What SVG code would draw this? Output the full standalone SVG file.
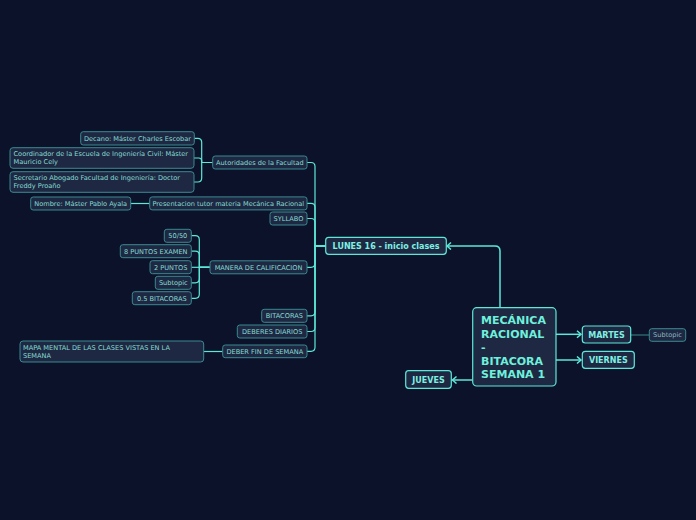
<svg xmlns="http://www.w3.org/2000/svg" width="696" height="520" viewBox="0 0 696 520">
<defs>
<marker id="arr" markerUnits="userSpaceOnUse" markerWidth="8" markerHeight="10" refX="5" refY="4" orient="auto">
<path d="M1,0.5 L5,4 L1,7.5" fill="none" stroke="#5ce8d8" stroke-width="1.5"/>
</marker>
<style>
.bg{fill:#0b1229}
.n{fill:#1e2842;stroke:#3a8a90;stroke-width:1}
.n1{fill:#1e2842;stroke:#5ce8d8;stroke-width:1.2}
.t{font-family:"DejaVu Sans",Verdana,sans-serif;font-size:6.6px;fill:#86dcd4}
.c{text-anchor:middle}
.t1{font-family:"DejaVu Sans",Verdana,sans-serif;font-size:8px;font-weight:bold;fill:#7ff0e2;text-anchor:middle}
.tm{font-family:"DejaVu Sans",Verdana,sans-serif;font-size:11px;font-weight:bold;fill:#6ff0dc}
.ts{font-family:"DejaVu Sans",Verdana,sans-serif;font-size:6.6px;fill:#8ab8c0;text-anchor:middle}
.l{fill:none;stroke:#5ce8d8;stroke-width:1.2}
.la{fill:none;stroke:#5ce8d8;stroke-width:1.5}
.lm{fill:none;stroke:#3a8a90;stroke-width:1}
</style>
</defs>
<rect class="bg" x="0" y="0" width="696" height="520"/>
<g id="connectors">
<path class="la" d="M500,307.7 V251 Q500,246 495,246 H447" marker-end="url(#arr)"/>
<path class="la" d="M556,334.3 H581" marker-end="url(#arr)"/>
<path class="la" d="M556,360 H581" marker-end="url(#arr)"/>
<path class="la" d="M472.7,380 H452.5" marker-end="url(#arr)"/>
<path class="lm" d="M630.7,335 H649.3"/>
<path class="l" d="M325.7,246 H315 V166.5 Q315,162.5 311,162.5 H307"/>
<path class="l" d="M325.7,246 H315 V207.3 Q315,203.3 311,203.3 H307"/>
<path class="l" d="M325.7,246 H315 V222.5 Q315,218.5 311,218.5 H307"/>
<path class="l" d="M325.7,246 H315 V263.3 Q315,267.3 311,267.3 H307"/>
<path class="l" d="M325.7,246 H315 V311.8 Q315,315.8 311,315.8 H307"/>
<path class="l" d="M325.7,246 H315 V327.5 Q315,331.5 311,331.5 H307"/>
<path class="l" d="M325.7,246 H315 V347.3 Q315,351.3 311,351.3 H307"/>
<path class="l" d="M212.7,162.5 H201.7 V142.3 Q201.7,138.3 197.7,138.3 H194.3"/>
<path class="l" d="M212.7,162.5 H201.7 V161 Q201.7,158 198.7,158 H194"/>
<path class="l" d="M212.7,162.5 H201.7 V178 Q201.7,182 197.7,182 H194"/>
<path class="l" d="M149.7,203.5 H130.7"/>
<path class="l" d="M210,267.3 H199.3 V239.7 Q199.3,235.7 195.3,235.7 H191.3"/>
<path class="l" d="M210,267.3 H199.3 V255.2 Q199.3,251.2 195.3,251.2 H191.3"/>
<path class="l" d="M210,267.3 H191.3"/>
<path class="l" d="M210,267.3 H199.3 V278.8 Q199.3,282.8 195.3,282.8 H191.3"/>
<path class="l" d="M210,267.3 H199.3 V294.3 Q199.3,298.3 195.3,298.3 H191.3"/>
<path class="l" d="M222.7,351.5 H203.7"/>
</g>
<g id="center"><rect class="n1" x="472.7" y="307.7" width="83.3" height="78.3" rx="4"/>
<text class="tm" x="481" y="324">MECÁNICA</text><text class="tm" x="481" y="337.5">RACIONAL</text><text class="tm" x="481" y="351">-</text><text class="tm" x="481" y="364.5">BITACORA</text><text class="tm" x="481" y="378">SEMANA 1</text></g>
<g id="lunes"><rect class="n1" x="325.7" y="237.3" width="120.6" height="17" rx="3"/><text class="t1" x="386" y="248.8">LUNES 16 - inicio clases</text></g>
<g id="martes"><rect class="n1" x="582.3" y="326" width="48.4" height="17" rx="3"/><text class="t1" x="606.5" y="337.5">MARTES</text></g>
<g id="viernes"><rect class="n1" x="582.3" y="351.3" width="52" height="17" rx="3"/><text class="t1" x="608.3" y="362.8">VIERNES</text></g>
<g id="jueves"><rect class="n1" x="405.7" y="370.7" width="45.6" height="17.6" rx="3"/><text class="t1" x="428.5" y="382.5">JUEVES</text></g>
<g id="subtopic-martes"><rect class="n" x="649.3" y="328.7" width="36.4" height="12.6" rx="2.5"/><text class="ts" x="667.5" y="337.3">Subtopic</text></g>
<g id="autoridades"><rect class="n" x="212.7" y="156" width="94.3" height="13" rx="2.5"/><text class="t c" x="259.8" y="164.9">Autoridades de la Facultad</text></g>
<g id="decano"><rect class="n" x="80.7" y="131.7" width="113.6" height="13.3" rx="2.5"/><text class="t c" x="137.5" y="140.7">Decano: Máster Charles Escobar</text></g>
<g id="coordinador"><rect class="n" x="10" y="147.7" width="184" height="20.6" rx="3"/><text class="t" x="13.5" y="156.4">Coordinador de la Escuela de Ingeniería Civil: Máster</text><text class="t" x="13.5" y="164.4">Mauricio Cely</text></g>
<g id="secretario"><rect class="n" x="10" y="171.7" width="184" height="20.6" rx="3"/><text class="t" x="13.5" y="180.4">Secretario Abogado Facultad de Ingeniería: Doctor</text><text class="t" x="13.5" y="188.4">Freddy Proaño</text></g>
<g id="presentacion"><rect class="n" x="149.7" y="196.9" width="157.3" height="13" rx="2.5"/><text class="t c" x="228.3" y="205.8">Presentacion tutor materia Mecánica Racional</text></g>
<g id="nombre"><rect class="n" x="30.7" y="197" width="100" height="13" rx="2.5"/><text class="t c" x="80.7" y="205.9">Nombre: Máster Pablo Ayala</text></g>
<g id="syllabo"><rect class="n" x="270" y="212" width="37" height="13" rx="2.5"/><text class="t c" x="288.5" y="220.9">SYLLABO</text></g>
<g id="manera"><rect class="n" x="210" y="260.8" width="97" height="13" rx="2.5"/><text class="t c" x="258.5" y="269.7">MANERA DE CALIFICACION</text></g>
<g id="n5050"><rect class="n" x="164.3" y="229.3" width="27" height="13" rx="2.5"/><text class="t c" x="177.8" y="238.2">50/50</text></g>
<g id="examen"><rect class="n" x="120.3" y="244.7" width="71" height="13" rx="2.5"/><text class="t c" x="155.8" y="253.6">8 PUNTOS EXAMEN</text></g>
<g id="dospuntos"><rect class="n" x="150" y="260.7" width="41.3" height="13" rx="2.5"/><text class="t c" x="170.7" y="269.6">2 PUNTOS</text></g>
<g id="subtopic-manera"><rect class="n" x="155.3" y="276.3" width="36" height="13" rx="2.5"/><text class="t c" x="173.3" y="285.2">Subtopic</text></g>
<g id="bitacoras05"><rect class="n" x="132.3" y="291.7" width="59" height="13" rx="2.5"/><text class="t c" x="161.8" y="300.6">0.5 BITACORAS</text></g>
<g id="bitacoras"><rect class="n" x="261.7" y="309.3" width="45.3" height="13" rx="2.5"/><text class="t c" x="284.3" y="318.2">BITACORAS</text></g>
<g id="deberes"><rect class="n" x="237.3" y="325" width="69.7" height="13" rx="2.5"/><text class="t c" x="272.2" y="333.9">DEBERES DIARIOS</text></g>
<g id="deberfin"><rect class="n" x="222.7" y="345" width="84.3" height="12.7" rx="2.5"/><text class="t c" x="264.8" y="353.8">DEBER FIN DE SEMANA</text></g>
<g id="mapa"><rect class="n" x="20" y="341" width="183.7" height="21" rx="3"/><text class="t" x="23" y="349.6">MAPA MENTAL DE LAS CLASES VISTAS EN LA</text><text class="t" x="23" y="357.6">SEMANA</text></g>
</svg>
